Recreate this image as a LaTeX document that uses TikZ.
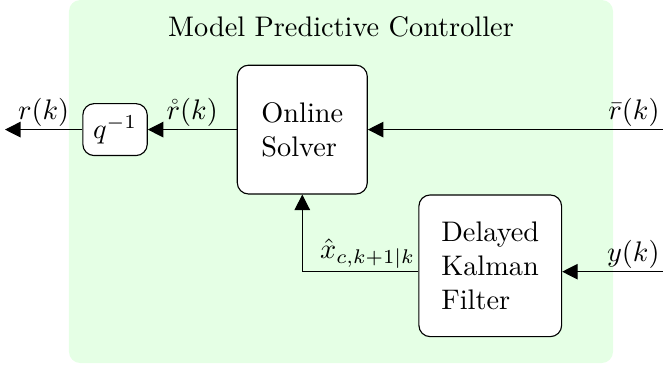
\documentclass[tikz,border=0pt]{standalone}
\usepackage{amsmath}
\usepackage{amssymb}
\usepackage{tikz}
\usetikzlibrary{arrows.meta}
\pgfdeclarelayer{background}
\pgfsetlayers{background,main}

\begin{document}
\begin{tikzpicture}[
  blk/.style={draw, fill=white, rounded corners=4pt, align=left},
  sig/.style={-{Triangle[length=5.5pt,width=5.5pt]}},
  lbl/.style={inner sep=1pt}
]
\useasboundingbox (0,0) rectangle (8.236,-4.522);
\begin{pgfonlayer}{background}
\fill[green!10, rounded corners=4pt] (0.857,0) rectangle (7.615,-4.51);
\end{pgfonlayer}
\node (title) at (4.236,-0.33) {Model Predictive Controller};
\node[blk, minimum width=1.615cm, minimum height=1.6cm] (os) at (3.755,-1.61) {Online\\Solver};
\node[blk, minimum width=0.8cm, minimum height=0.645cm] (qd) at (1.429,-1.61) {$q^{-1}$};
\node[blk, minimum width=1.773cm, minimum height=1.76cm] (kf) at (6.09,-3.302) {Delayed\\Kalman\\Filter};
\coordinate (rin) at (8.236,-1.61);
\coordinate (rout) at (0.062,-1.61);
\coordinate (yin) at (8.236,-3.375);
% reference and measurement inputs
\draw[sig] (rin) -- (os.east);
\node[lbl, anchor=south east] (rinlbl) at (rin) {$\bar{r}(k)$};
\draw[sig] (yin) -- (yin -| kf.east);
\node[lbl, anchor=south east] (yinlbl) at (yin) {$y(k)$};
% solver output through the delay
\draw[sig] (os.west) -- node[lbl, above] (rrlbl) {$\mathring{r}(k)$} (qd.east);
\draw[sig] (qd.west) -- node[lbl, above] (routlbl) {$r(k)$} (rout);
% state estimate back to the solver
\draw[sig] (kf.west |- yin) -| (os.south);
\node[lbl, anchor=south east] (xlbl) at (kf.west |- yin) {$\hat{x}_{c,k+1|k}$};
\end{tikzpicture}
\end{document}
